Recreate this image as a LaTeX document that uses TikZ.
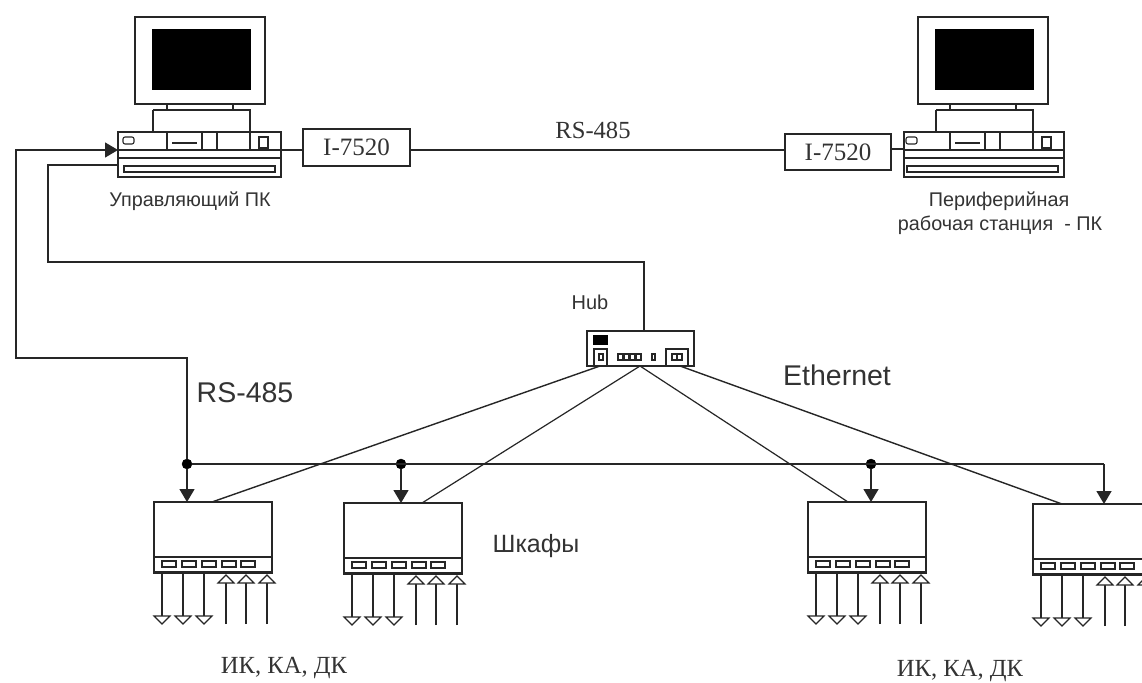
\documentclass[tikz,border=0pt]{standalone}
\usepackage{fontspec}
\setmainfont{Liberation Serif}
\setsansfont{Liberation Sans}
\usetikzlibrary{arrows.meta,calc}
\definecolor{ink}{HTML}{262626}
\definecolor{txt}{HTML}{333333}
\tikzset{
  ln/.style={draw=ink,line width=1.4pt},
  thin ln/.style={draw=ink,line width=1.1pt},
  box/.style={ln,rectangle,inner sep=0pt,outer sep=0pt,anchor=north west,fill=white},
  sq/.style={thin ln,rectangle,inner sep=0pt,outer sep=0pt,anchor=north west,fill=white},
  solid part/.style={fill=black,draw=black,rectangle,inner sep=0pt,outer sep=0pt,anchor=north west},
  module/.style={box,font=\fontsize{25}{28}\selectfont,text=txt},
  bus/.style={ln,-{Triangle[length=13pt,width=15pt]}},
  dot/.style={circle,fill=black,draw=black,inner sep=0pt,minimum size=10pt},
  lbl/.style={text=txt,inner sep=0pt,align=center},
  sans small/.style={lbl,font=\sffamily\fontsize{19.8}{24}\selectfont},
  sans big/.style={lbl,font=\sffamily\fontsize{28.5}{32}\selectfont},
  serif small/.style={lbl,font=\fontsize{24.6}{28}\selectfont},
}
% #1 name, #2 x, #3 y of a computer's top left monitor corner, #4 base offset, #5 base width
\newcommand{\computer}[5]{%
  \begin{scope}[shift={(#2,#3)}]
    \node[box,minimum width=#5pt,minimum height=45pt] (#1base) at (#4,115) {};
    \draw[ln] (18,93) -- (18,115);
    \draw[ln] (18,93) -- (115,93) -- (115,133);
    \node[box,minimum width=130pt,minimum height=87pt] (#1mon) at (0,0) {};
    \node[solid part,minimum width=98pt,minimum height=60pt] (#1scr) at (17,12) {};
    \node[sq,minimum width=66pt,minimum height=6pt] (#1std) at (32,87) {};
    \draw[ln] (#4,133) -- ++(#5,0);
    \draw[ln] (#4,141) -- ++(#5,0);
    \node[sq,minimum width=151pt,minimum height=6pt] (#1slot) at (-11,149) {};
    \node[sq,minimum width=11pt,minimum height=7pt,rounded corners=2pt] (#1led) at (-12,120) {};
    \node[sq,minimum width=35pt,minimum height=18pt] (#1bay) at (32,115) {};
    \draw[thin ln] (37,126) -- (62,126);
    \draw[ln] (82,115) -- (82,133);
    \node[sq,minimum width=9pt,minimum height=11pt] (#1btn) at (124,120) {};
  \end{scope}}
% #1 name, #2 x, #3 y of a cabinet's top left corner
\newcommand{\cabinet}[3]{%
  \node[box,minimum width=118pt,minimum height=71pt] (#1) at (#2,#3) {};
  \begin{scope}[shift={(#2,#3)}]
    \draw[ln] (0,55) -- (118,55);
    \draw[draw=ink,line width=2.4pt] (0,70) -- (118,70);
    \foreach \px in {8,28,48,68,87}
      \draw[thin ln] (\px,59) rectangle ++(14,6);
    \foreach \px in {8,29,50}{
      \draw[ln] (\px,71) -- (\px,114);
      \draw[thin ln,fill=white] (\px-8,114) -- (\px+8,114) -- (\px,122) -- cycle;
    }
    \foreach \px in {72,92,113}{
      \draw[ln] (\px,122) -- (\px,81);
      \draw[thin ln,fill=white] (\px-8,81) -- (\px+8,81) -- (\px,73) -- cycle;
    }
  \end{scope}}
\begin{document}
\begin{tikzpicture}[x=1pt,y=-1pt]
\useasboundingbox (0,0) rectangle (1142,682);
\clip (0,0) rectangle (1142,682);
\fill[white] (0,0) rectangle (1142,682);

\computer{a}{135}{17}{-17}{163}
\computer{b}{918}{17}{-14}{160}

\node[module,minimum width=107pt,minimum height=37pt] (ma) at (303,129) {I-7520\hspace{8pt}};
\node[module,minimum width=106pt,minimum height=36pt] (mb) at (785,134) {I-7520\hspace{18pt}};

\node[box,minimum width=107pt,minimum height=35pt] (hub) at (587,331) {};
\node[solid part,minimum width=14pt,minimum height=9pt] (hubled) at (593,335) {};
\node[sq,minimum width=13pt,minimum height=17pt] (hubl) at (594,349) {};
\node[sq,minimum width=22pt,minimum height=17pt] (hubr) at (666,349) {};
\foreach \px in {618,624,630,636}
  \draw[thin ln] (\px,354) rectangle ++(5,6);
\draw[thin ln] (652,354) rectangle ++(3,6);
\draw[thin ln] (599,354) rectangle ++(4,6);
\draw[thin ln] (672,354) rectangle ++(5,6);
\draw[thin ln] (677,354) rectangle ++(5,6);

\cabinet{c1}{154}{502}
\cabinet{c2}{344}{503}
\cabinet{c3}{808}{502}
\cabinet{c4}{1033}{504}

% named free points on the nodes
\coordinate (hubtop) at (644,331);
\coordinate (hubA) at (600,366);
\coordinate (hubM) at (640,366);
\coordinate (hubZ) at (680,366);
\coordinate (c1hub) at (212,502);
\coordinate (c2hub) at (422,503);
\coordinate (c3hub) at (848,502);
\coordinate (c4hub) at (1062,504);
\coordinate (aS) at (118,150);
\coordinate (aE) at (118,165);

% RS-485 between the computers
\draw[ln] (281,150) -- (303,150);
\draw[ln] (ma.east |- 0,150) -- (mb.west |- 0,150);
\draw[ln] (mb.east |- 0,149) -- (904,149);

% Ethernet
\draw[ln] (hubtop) |- (48,262) -- (48,165) -- (aE);
\draw[ln] (hubA) -- (c1hub);
\draw[ln,line width=1.2pt] (hubM) -- (c2hub);
\draw[ln,line width=1.2pt] (hubM) -- (c3hub);
\draw[ln] (hubZ) -- (c4hub);

% RS-485 bus
\node[dot] (d1) at (187,464) {};
\node[dot] (d2) at (401,464) {};
\node[dot] (d3) at (871,464) {};
\coordinate (busend) at (1104,464);
\draw[bus] (d1) -- (187,358) -- (16,358) -- (16,150) -- (aS);
\draw[ln] (d1) -- (busend);
\draw[bus] (d1) -- (c1.north -| d1);
\draw[bus] (d2) -- (c2.north -| d2);
\draw[bus] (d3) -- (c3.north -| d3);
\draw[bus] (busend) -- (c4.north -| busend);

% labels
\node[sans small] (t1) at (190,201) {Управляющий ПК};
\node[sans small] (t2) at (999,201) {Периферийная};
\node[sans small] (t3) at (1000,225) {рабочая станция~ - ПК};
\node[serif small] (t4) at (593,130) {RS-485};
\node[sans big] (t5) at (245,393) {RS-485};
\node[sans big] (t6) at (837,375) {Ethernet};
\node[lbl,font=\sffamily\fontsize{20}{22}\selectfont] (t7) at (590,302) {Hub};
\node[sans small,font=\sffamily\fontsize{25}{28}\selectfont] (t8) at (536,546) {Шкафы};
\node[serif small] (t9) at (284,668) {ИК, КА, ДК};
\node[serif small] (t10) at (960,671) {ИК, КА, ДК};
\end{tikzpicture}
\end{document}
